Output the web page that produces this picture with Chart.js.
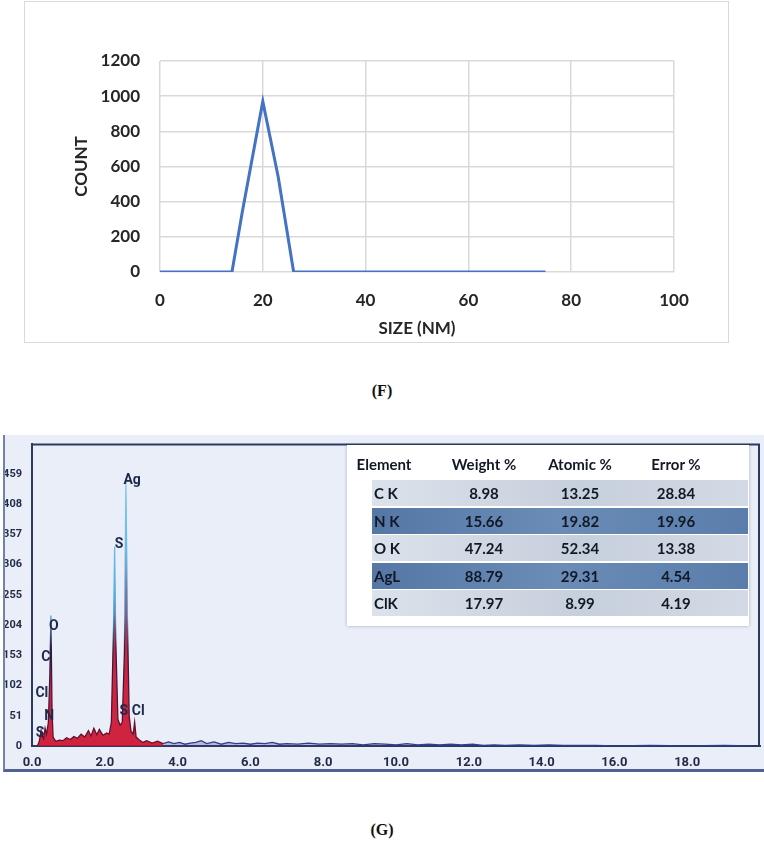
<!DOCTYPE html>
<html>
<head>
<meta charset="utf-8">
<script src="https://cdn.jsdelivr.net/npm/chart.js@4.4.0/dist/chart.umd.min.js"></script>
<style>
  html, body { margin: 0; padding: 0; background: #fff; }
  body { width: 764px; height: 841px; position: relative; overflow: hidden; }
  #sizeBox { position: absolute; left: 24px; top: 1px; width: 703px; height: 340px; border: 1px solid #d9d9d9; background: #fff; }
  #edsBox { position: absolute; left: 3px; top: 435px; width: 759px; height: 334px;
            background: #eaeef8; border-left: 2px solid #7283a8; border-bottom: 3px solid #4f6290; }
  .caption { position: absolute; left: 0; width: 764px; text-align: center;
             font: bold 16px "Liberation Serif", "DejaVu Serif", serif; color: #111; }
  #edsTable { position: absolute; left: 347px; top: 445px; width: 402px; height: 181px; background: #fff;
              box-shadow: 0 0 3px rgba(40,50,80,0.35); font-family: Lato, "Open Sans", sans-serif; color: #121826; }
  #edsTable .band { position: absolute; left: 25px; width: 376px; height: 26px; }
  #edsTable .light { background: linear-gradient(to right, #dce2eb, #c6cfdc 55%, #d3dae5); }
  #edsTable .dark { background: linear-gradient(to right, #5577a5, #6a8cb6 50%, #5a7dab); }
  #edsTable .cell { position: absolute; top: 0; line-height: 26px; font-size: 15px; font-weight: bold; text-align: center; width: 90px; }
  #edsTable .head { position: absolute; top: 10px; font-size: 15px; font-weight: bold; text-align: center; width: 100px; }
</style>
</head>
<body>
<div id="sizeBox"><canvas id="sizeChart"></canvas></div>
<div class="caption" style="top:382px">(F)</div>
<div id="edsBox"><canvas id="edsChart"></canvas></div>
<div id="edsTable"></div>
<div class="caption" style="top:821px">(G)</div>
<script>
// ---- panel F: size distribution ----
const sizeNm    = [0, 14, 16, 20, 23, 26, 75];
const sizeCount = [0, 0, 340, 970, 540, 0, 0];

// ---- panel G: EDS spectrum ----
const spectrumKeV = [
  0.15, 0.20, 0.25, 0.28, 0.32, 0.36, 0.40, 0.45, 0.49, 0.52, 0.55, 0.58, 0.65, 0.75, 0.85, 0.95,
  1.05, 1.15, 1.25, 1.35, 1.45, 1.55, 1.62, 1.70, 1.78, 1.85, 1.95, 2.05, 2.12, 2.18, 2.24, 2.27,
  2.30, 2.36, 2.42, 2.48, 2.54, 2.58, 2.62, 2.67, 2.72, 2.78, 2.82, 2.86, 2.95, 3.05, 3.15, 3.30,
  3.45, 3.60, 3.75, 3.90, 4.05, 4.20, 4.35, 4.50, 4.65, 4.80, 5.00, 5.20, 5.40, 5.60, 5.80, 6.00,
  6.20, 6.40, 6.60, 6.80, 7.00, 7.30, 7.60, 7.90, 8.20, 8.50, 8.80, 9.10, 9.40, 9.70, 10.0, 10.3,
  10.6, 10.9, 11.2, 11.5, 11.8, 12.1, 12.4, 12.7, 13.0, 13.4, 13.8, 14.2, 14.6, 15.0, 15.5, 16.0,
  17.0, 18.0, 19.0, 19.8
];
const spectrumCounts = [
  0, 8, 26, 18, 12, 30, 20, 40, 120, 220, 60, 15, 8, 10, 9, 14,
  11, 16, 13, 20, 15, 26, 17, 30, 19, 28, 18, 22, 20, 40, 200, 336,
  180, 45, 35, 40, 160, 445, 220, 50, 25, 20, 40, 15, 10, 6, 9, 5,
  8, 4, 7, 4, 6, 3, 5, 6, 9, 4, 7, 3, 6, 4, 5, 3,
  5, 4, 6, 3, 4, 3, 5, 3, 4, 3, 4, 2, 4, 3, 2, 4,
  2, 3, 2, 3, 2, 3, 1, 2, 1, 2, 1, 2, 1, 1, 1, 0,
  1, 0, 1, 0
];
const peakLabelText  = ['S', 'Cl', 'N', 'C', 'O', 'S', 'Ag', 'S', 'Cl'];
const peakLabelKeV   = [0.22, 0.27, 0.47, 0.38, 0.60, 2.39, 2.75, 2.52, 2.92];
const peakLabelCount = [21, 89, 49, 150, 202, 339, 448, 58, 58];

// ---- EDS quantification table ----
const elementNames = ['C K', 'N K', 'O K', 'AgL', 'ClK'];
const weightPct    = ['8.98', '15.66', '47.24', '88.79', '17.97'];
const atomicPct    = ['13.25', '19.82', '52.34', '29.31', '8.99'];
const errorPct     = ['28.84', '19.96', '13.38', '4.54', '4.19'];

const tickFont = { family: 'Lato, "Open Sans", sans-serif', size: 17, weight: 'bold' };

new Chart(document.getElementById('sizeChart'), {
    type: 'line',
    data: {
        datasets: [{
            data: sizeNm.map((x, i) => ({ x: x, y: sizeCount[i] })),
            borderColor: '#4472c4',
            borderWidth: 3,
            pointRadius: 0,
            fill: false,
            tension: 0
        }]
    },
    options: {
        responsive: true,
        maintainAspectRatio: false,
        animation: false,
        layout: { padding: { left: 0, right: 54, top: 59, bottom: 0 } },
        plugins: { legend: { display: false }, tooltip: { enabled: false } },
        scales: {
            x: {
                type: 'linear', min: 0, max: 100,
                ticks: { stepSize: 20, padding: 18, color: '#262626', font: tickFont, callback: v => v },
                grid: { color: '#d9d9d9', lineWidth: 1.5, drawTicks: false },
                border: { display: false },
                title: { display: true, text: 'SIZE (NM)', color: '#262626', font: tickFont, padding: { top: 0, bottom: 3 } },
                afterFit: s => { s.height = 70; }
            },
            y: {
                min: 0, max: 1200,
                ticks: { stepSize: 200, padding: 20, color: '#262626', font: tickFont, callback: v => v },
                grid: { color: '#d9d9d9', lineWidth: 1.5, drawTicks: false },
                border: { display: false },
                title: { display: true, text: 'COUNT', color: '#262626', font: tickFont, padding: { top: 46, bottom: 0 } },
                afterFit: s => { s.width = 135; }
            }
        }
    }
});

const narrowFamily = '"Liberation Sans Narrow", Roboto, sans-serif';

// frame on top/right of the spectrum plot + element labels
const edsDecor = {
    id: 'edsDecor',
    afterDatasetsDraw(chart) {
        const { ctx, chartArea: a, scales } = chart;
        ctx.save();
        ctx.strokeStyle = '#2a3a60';
        ctx.lineWidth = 2;
        ctx.beginPath();
        ctx.moveTo(a.left, a.top + 1);
        ctx.lineTo(a.right - 1, a.top + 1);
        ctx.lineTo(a.right - 1, a.bottom);
        ctx.stroke();
        ctx.fillStyle = '#1d2a4c';
        ctx.font = 'bold 14px ' + narrowFamily;
        ctx.textAlign = 'center';
        ctx.textBaseline = 'middle';
        peakLabelText.forEach((t, i) => {
            ctx.fillText(t, scales.x.getPixelForValue(peakLabelKeV[i]), scales.y.getPixelForValue(peakLabelCount[i]));
        });
        ctx.restore();
    }
};

function peakStroke(context) {
    const chart = context.chart;
    if (!chart.chartArea) return '#7a1030';
    const y = chart.scales.y;
    const g = chart.ctx.createLinearGradient(0, y.getPixelForValue(460), 0, y.getPixelForValue(0));
    g.addColorStop(0, '#7fd0f2');
    g.addColorStop(0.52, '#4fa9dc');
    g.addColorStop(0.64, '#2b1e42');
    g.addColorStop(1, '#6e0c2a');
    return g;
}

const yFont = { family: narrowFamily, size: 11, weight: 'bold' };
const xFont = { family: narrowFamily, size: 13, weight: 'bold' };

new Chart(document.getElementById('edsChart'), {
    type: 'line',
    data: {
        datasets: [{
            data: spectrumKeV.map((e, i) => ({ x: e, y: spectrumCounts[i] })),
            borderColor: peakStroke,
            backgroundColor: 'rgba(204, 18, 48, 0.92)',
            borderWidth: 1.3,
            pointRadius: 0,
            fill: 'origin',
            tension: 0,
            segment: {
                borderColor: c => c.p0.parsed.x > 3.5 ? '#2c3f8e' : undefined,
                backgroundColor: c => c.p0.parsed.x > 3.5 ? 'rgba(70, 60, 140, 0.3)' : undefined
            }
        }]
    },
    options: {
        responsive: true,
        maintainAspectRatio: false,
        animation: false,
        layout: { padding: { left: 0, right: 4, top: 2, bottom: 0 } },
        plugins: { legend: { display: false }, tooltip: { enabled: false } },
        scales: {
            x: {
                type: 'linear', min: 0, max: 20,
                ticks: { stepSize: 2, padding: 1, color: '#1f2a44', font: xFont,
                         callback: v => v < 20 ? v.toFixed(1) : '' },
                grid: { display: false },
                border: { color: '#2a3a60', width: 2 },
                afterFit: s => { s.height = 23; }
            },
            y: {
                min: 0, max: 510,
                ticks: { stepSize: 51, padding: 2, color: '#1f2a44', font: yFont,
                         callback: v => v < 510 ? v : '' },
                grid: { display: false },
                border: { color: '#2a3a60', width: 2 },
                afterFit: s => { s.width = 27; }
            }
        }
    },
    plugins: [edsDecor]
});

// build the quantification table as real text
const tbl = document.getElementById('edsTable');
const heads = ['Element', 'Weight %', 'Atomic %', 'Error %'];
const headX = [37, 137, 233, 329];
heads.forEach((h, i) => {
    const d = document.createElement('div');
    d.className = 'head';
    d.style.left = (headX[i] - 50) + 'px';
    d.textContent = h;
    tbl.appendChild(d);
});
const colX = [137, 233, 329];
elementNames.forEach((name, r) => {
    const band = document.createElement('div');
    band.className = 'band ' + (r % 2 ? 'dark' : 'light');
    band.style.top = (35 + r * 27.5) + 'px';
    const c0 = document.createElement('div');
    c0.className = 'cell';
    c0.style.left = '2px';
    c0.style.textAlign = 'left';
    c0.textContent = name;
    band.appendChild(c0);
    [weightPct[r], atomicPct[r], errorPct[r]].forEach((v, k) => {
        const c = document.createElement('div');
        c.className = 'cell';
        c.style.left = (colX[k] - 25 - 45) + 'px';
        c.textContent = v;
        band.appendChild(c);
    });
    tbl.appendChild(band);
});
</script>
</body>
</html>
